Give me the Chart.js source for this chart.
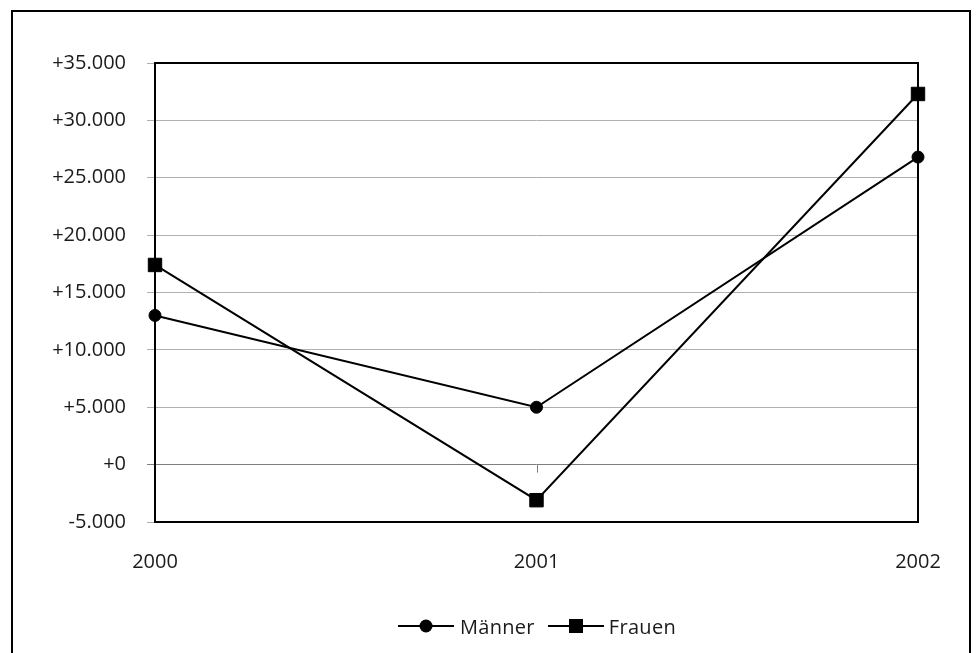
<!DOCTYPE html>
<html lang="de">
<head>
<meta charset="utf-8">
<title>Männer / Frauen 2000–2002</title>
<script src="https://cdn.jsdelivr.net/npm/chart.js@4/dist/chart.umd.min.js"></script>
<style>
  html, body { margin: 0; padding: 0; background: #fff; }
  body { width: 976px; height: 653px; position: relative; overflow: hidden; font-family: "Open Sans", sans-serif; }
  #frame { position: absolute; left: 11px; top: 10px; width: 960px; height: 700px; border: 2px solid #000; box-sizing: border-box; }
  #chart { position: absolute; left: 0; top: 0; }
  #legend { position: absolute; left: 398px; top: 611px; height: 30px; display: flex; align-items: center; font-size: 20px; letter-spacing: 0.3px; color: #1a1a1a; white-space: nowrap; }
  #legend svg { display: block; }
  #legend .lbl { margin-left: 6px; margin-right: 13px; }
  #legend .lbl.last { margin-right: 0; margin-left: 5px; }
</style>
</head>
<body>
<div id="frame"></div>
<canvas id="chart" width="976" height="653"></canvas>
<div id="legend">
  <svg width="56" height="16" viewBox="0 0 56 16"><line x1="0" y1="8" x2="56" y2="8" stroke="#000" stroke-width="2"/><circle cx="28" cy="8" r="6.5" fill="#000"/></svg>
  <span class="lbl">Männer</span>
  <svg width="56" height="16" viewBox="0 0 56 16"><line x1="0" y1="8" x2="56" y2="8" stroke="#000" stroke-width="2"/><rect x="21" y="1" width="14" height="14" fill="#000"/></svg>
  <span class="lbl last">Frauen</span>
</div>
<script>
// Jahre und Veränderungen gegenüber dem Vorjahr
const years = ['2000', '2001', '2002'];
const maenner = [13000, 5000, 26800];
const frauen = [17400, -3100, 32300];

// Beschriftung der Werteachse
const yTicks = [-5000, 0, 5000, 10000, 15000, 20000, 25000, 30000, 35000];
const yTickLabels = ['-5.000', '+0', '+5.000', '+10.000', '+15.000', '+20.000', '+25.000', '+30.000', '+35.000'];

Chart.defaults.font.family = '"Open Sans", sans-serif';
Chart.defaults.font.size = 20;
Chart.defaults.color = '#1a1a1a';

// etwas gesperrte Schrift für alle Achsenbeschriftungen
const spacedText = {
  id: 'spacedText',
  beforeInit(chart) { chart.ctx.letterSpacing = '0.7px'; }
};

// Rahmen um die Zeichenfläche und kleine Rubrikenstriche auf der Nulllinie
const plotFrame = {
  id: 'plotFrame',
  beforeDatasetsDraw(chart) {
    const { ctx, chartArea: a, scales } = chart;
    ctx.save();
    const y0 = scales.y.getPixelForValue(0);
    ctx.strokeStyle = '#7f7f7f';
    ctx.lineWidth = 1;
    ctx.beginPath();
    scales.x.ticks.forEach((t, i) => {
      const px = Math.round(scales.x.getPixelForTick(i)) + 0.5;
      ctx.moveTo(px, y0);
      ctx.lineTo(px, y0 + 8);
    });
    ctx.stroke();
    ctx.strokeStyle = '#000';
    ctx.lineWidth = 2;
    ctx.strokeRect(a.left, a.top, a.right - a.left, a.bottom - a.top);
    ctx.restore();
  }
};

new Chart(document.getElementById('chart'), {
  type: 'line',
  data: {
    labels: years,
    datasets: [
      {
        label: 'Männer',
        data: maenner,
        borderColor: '#000',
        backgroundColor: '#000',
        borderWidth: 2,
        pointStyle: 'circle',
        pointRadius: 6,
        pointBorderWidth: 1,
        tension: 0,
        clip: false
      },
      {
        label: 'Frauen',
        data: frauen,
        borderColor: '#000',
        backgroundColor: '#000',
        borderWidth: 2,
        pointStyle: 'rect',
        pointRadius: 9.5,
        pointBorderWidth: 1,
        tension: 0,
        clip: false
      }
    ]
  },
  options: {
    responsive: false,
    animation: false,
    devicePixelRatio: 1,
    layout: { padding: { left: 0, right: 58, top: 63, bottom: 0 } },
    plugins: { legend: { display: false }, tooltip: { enabled: false } },
    scales: {
      x: {
        offset: false,
        grid: { display: false, drawTicks: false },
        border: { display: false },
        ticks: { padding: 28, maxRotation: 0 },
        afterFit(scale) { scale.height = 131; }
      },
      y: {
        min: -5000,
        max: 35000,
        afterBuildTicks(scale) { scale.ticks = yTicks.map(v => ({ value: v })); },
        grid: {
          color: ctx => (ctx.tick && ctx.tick.value === 0 ? '#7f7f7f' : '#b0b0b0'),
          lineWidth: 1,
          drawTicks: true,
          tickLength: 8
        },
        border: { display: false },
        ticks: {
          padding: 21,
          callback: (v, i) => yTickLabels[i]
        },
        afterFit(scale) { scale.width = 155; }
      }
    }
  },
  plugins: [spacedText, plotFrame]
});
</script>
</body>
</html>
